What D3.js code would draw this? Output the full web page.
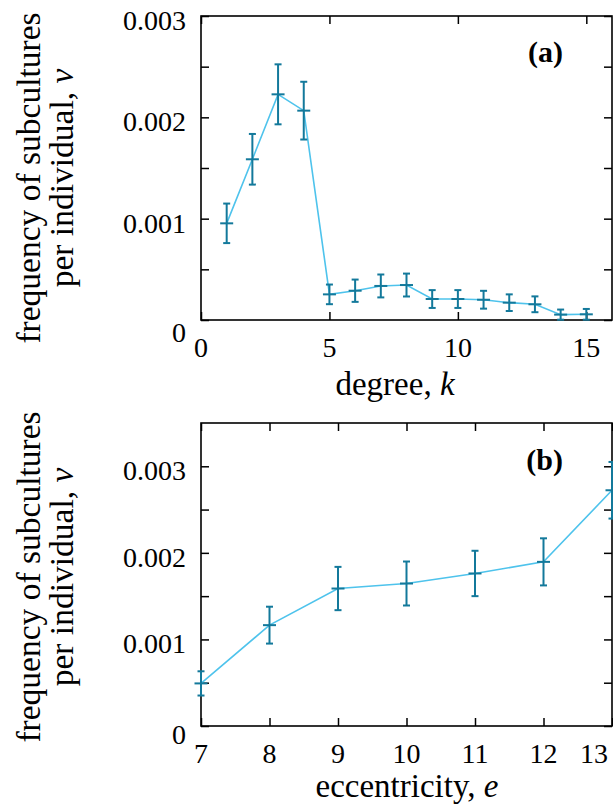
<!DOCTYPE html>
<html><head><meta charset="utf-8">
<script src="https://cdn.jsdelivr.net/npm/d3@7"></script>
<style>html,body{margin:0;padding:0;background:#fff}svg{display:block}</style>
</head><body>
<svg id="c" width="613" height="806"></svg>
<script>
// Panel (a): degree k
const degreeK = [1,2,3,4,5,6,7,8,9,10,11,12,13,14,15];
const freqA   = [0.000954,0.001586,0.002227,0.002066,0.000253,0.000289,0.000336,0.000345,0.000207,0.000207,0.000200,0.000171,0.000155,0.000053,0.000056];
const errA    = [0.000195,0.000250,0.000296,0.000285,0.000097,0.000110,0.000113,0.000113,0.000088,0.000088,0.000088,0.000082,0.000078,0.000050,0.000053];
// Panel (b): eccentricity e
const eccE  = [7,8,9,10,11,12,13];
const freqB = [0.000492,0.001165,0.001588,0.001646,0.001762,0.001896,0.002723];
const errB  = [0.000140,0.000213,0.000250,0.000254,0.000262,0.000272,0.000327];

const xTicksA = [0,5,10,15];
const yTicksA = [0,0.0005,0.001,0.0015,0.002,0.0025,0.003];
const xTicksB = [7,8,9,10,11,12,13];
const yTicksB = [0,0.0005,0.001,0.0015,0.002,0.0025,0.003];
const yLabels = {0:"0",0.001:"0.001",0.002:"0.002",0.003:"0.003"};

const LINE = "#4ec3ec", ERR = "#13799b", FONT = "'Liberation Serif', 'Times New Roman', serif";
const svg = d3.select("#c");

function panel(o){
  const g = svg.append("g");
  const x = d3.scaleLinear().domain(o.xd).range([o.l, o.r]);
  const y = d3.scaleLinear().domain(o.yd).range([o.b, o.t]);
  const tl = 8;
  const gx1 = g.append("g").attr("transform",`translate(0,${o.b})`)
    .call(d3.axisBottom(x).tickValues(o.xt).tickSize(-tl).tickFormat(""));
  const gx2 = g.append("g").attr("transform",`translate(0,${o.t})`)
    .call(d3.axisTop(x).tickValues(o.xt).tickSize(-tl).tickFormat(""));
  const gy1 = g.append("g").attr("transform",`translate(${o.l},0)`)
    .call(d3.axisLeft(y).tickValues(o.yt).tickSize(-tl).tickFormat(""));
  const gy2 = g.append("g").attr("transform",`translate(${o.r},0)`)
    .call(d3.axisRight(y).tickValues(o.yt).tickSize(-tl).tickFormat(""));
  [gx1,gx2,gy1,gy2].forEach(a=>{a.select(".domain").remove();
    a.selectAll("line").attr("stroke","#000").attr("stroke-width",1.5);});
  g.append("rect").attr("x",o.l).attr("y",o.t).attr("width",o.r-o.l).attr("height",o.b-o.t)
    .attr("fill","none").attr("stroke","#000").attr("stroke-width",1.6);
  // tick labels (last label kept inside the page)
  g.selectAll(".xl").data(o.xt).join("text")
    .attr("x",d=>Math.min(x(d), 607 - 13))
    .attr("y",o.b+37)
    .attr("text-anchor","middle").attr("font-family",FONT).attr("font-size",28).text(d=>d);
  g.selectAll(".yl").data(o.yt.filter(d=>yLabels[d]!==undefined)).join("text")
    .attr("x",o.l-15).attr("y",d=>y(d)+14+(d===0?o.zeroShift:0))
    .attr("text-anchor","end").attr("font-family",FONT).attr("font-size",28).text(d=>yLabels[d]);
  const xt = g.append("text").attr("x",o.xtx).attr("y",o.xty).attr("text-anchor","middle")
    .attr("font-family",FONT).attr("font-size",33);
  xt.append("tspan").text(o.xTitle+", ");
  xt.append("tspan").attr("font-style","italic").text(o.xVar);
  const yc = o.ytc;
  g.append("text").attr("transform",`translate(40,${yc}) rotate(-90)`)
    .attr("text-anchor","middle").attr("font-family",FONT).attr("font-size",33.5)
    .text("frequency of subcultures");
  const yt2 = g.append("text").attr("transform",`translate(73,${yc}) rotate(-90)`)
    .attr("text-anchor","middle").attr("font-family",FONT).attr("font-size",33.5);
  yt2.append("tspan").text("per individual, ");
  yt2.append("tspan").attr("font-style","italic").text("v");
  g.append("text").attr("x",563).attr("y",o.lab_y).attr("text-anchor","end")
    .attr("font-family",FONT).attr("font-size",30).attr("font-weight","bold").text(o.label);
  const pts = o.xs.map((d,i)=>({x:d,y:o.ys[i],e:o.es[i]}));
  g.append("path").datum(pts).attr("fill","none").attr("stroke",LINE).attr("stroke-width",1.6)
    .attr("d",d3.line().x(d=>x(d.x)).y(d=>y(d.y)));
  const eb = g.append("g").attr("stroke",ERR).attr("stroke-width",2).attr("fill","none");
  pts.forEach(d=>{
    const cx = x(d.x), y1 = y(d.y+d.e), y0 = y(Math.max(0,d.y-d.e)), cy = y(d.y);
    eb.append("line").attr("x1",cx).attr("x2",cx).attr("y1",y1).attr("y2",y0);
    eb.append("line").attr("x1",cx-3.5).attr("x2",cx+3.5).attr("y1",y1).attr("y2",y1);
    eb.append("line").attr("x1",cx-3.5).attr("x2",cx+3.5).attr("y1",y0).attr("y2",y0);
    eb.append("line").attr("x1",cx-6.5).attr("x2",cx+6.5).attr("y1",cy).attr("y2",cy);
  });
}

panel({xd:[0,16], yd:[0,0.003], l:201, r:612, t:16, b:320, xt:xTicksA, yt:yTicksA,
  xs:degreeK, ys:freqA, es:errA, xTitle:"degree", xVar:"k", xtx:395, xty:395,
  ytc:178, label:"(a)", lab_y:62, zeroShift:8});
panel({xd:[7,13], yd:[0,0.0035], l:201, r:612, t:423, b:726, xt:xTicksB, yt:yTicksB,
  xs:eccE, ys:freqB, es:errB, xTitle:"eccentricity", xVar:"e", xtx:407, xty:797,
  ytc:577, label:"(b)", lab_y:470, zeroShift:4});
</script>
</body></html>
